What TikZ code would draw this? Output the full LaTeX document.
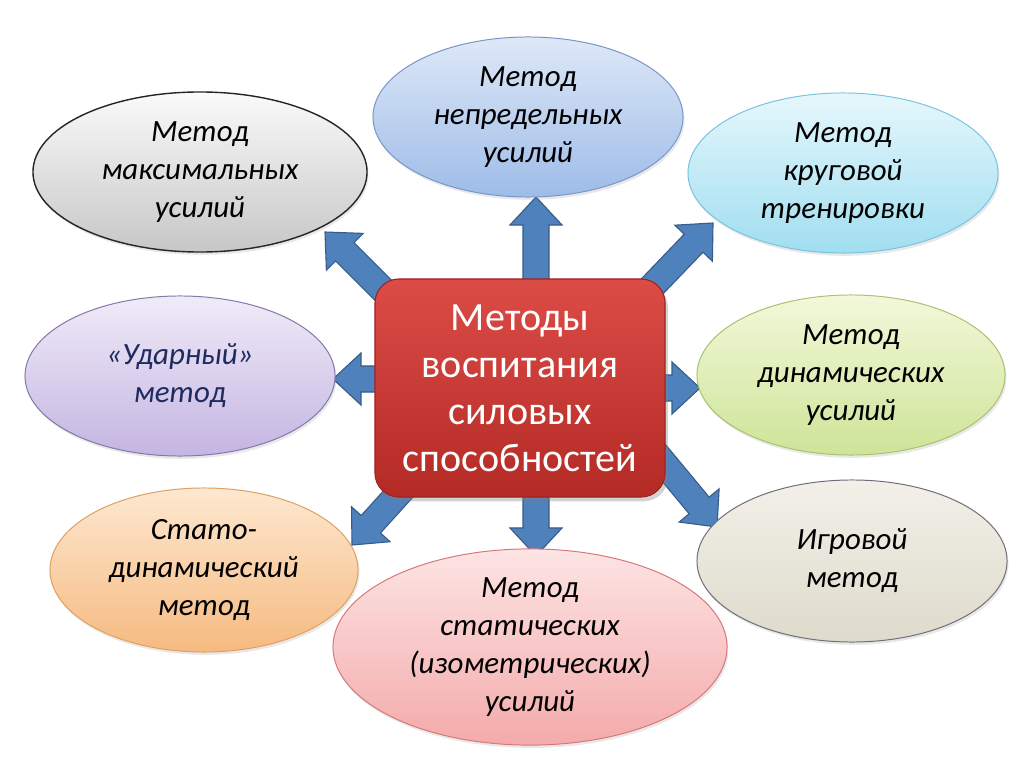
\documentclass[tikz,border=0pt]{standalone}
\usepackage{fontspec}
\setmainfont{Carlito}
\usetikzlibrary{calc,shapes.geometric,shadows}
\definecolor{arrfill}{HTML}{4F81BD}
\definecolor{arrdraw}{HTML}{385D8A}
\definecolor{redtop}{HTML}{DC4C47}
\definecolor{redbot}{HTML}{B42A25}
\definecolor{reddraw}{HTML}{9E2420}
\definecolor{navytext}{HTML}{1F2A5E}
\tikzset{
  arrowstyle/.style={fill=arrfill, draw=arrdraw, line width=0.8pt, line join=miter},
  methodnode/.style={ellipse, inner sep=0pt, align=center, line width=0.7pt,
     font=\itshape\fontsize{22}{27}\selectfont,
     drop shadow={opacity=0.18, shadow xshift=1pt, shadow yshift=-2pt}},
  mainbox/.style={rectangle, rounded corners=0.6cm, inner sep=0pt, align=center,
     top color=redtop, bottom color=redbot, draw=reddraw, line width=0.8pt,
     text=white, font=\fontsize{28.5}{33.5}\selectfont,
     minimum width=7.25cm, minimum height=5.45cm,
     drop shadow={opacity=0.35, shadow xshift=2pt, shadow yshift=-3pt}}
}
\newcommand\blockarrow[2]{%
  \coordinate (ba-h) at ($(#2)!0.7cm!(#1)$);
  \draw[arrowstyle] ($(#1)!0.325cm!90:(#2)$) -- ($(ba-h)!0.325cm!90:(#2)$)
     -- ($(ba-h)!0.65cm!90:(#2)$) -- (#2) -- ($(ba-h)!0.65cm!-90:(#2)$)
     -- ($(ba-h)!0.325cm!-90:(#2)$) -- ($(#1)!0.325cm!-90:(#2)$) -- cycle;}
\begin{document}
\begin{tikzpicture}[x=0.025cm, y=-0.025cm]
\useasboundingbox (0,0) rectangle (1024,767);
\fill[white] (0,0) rectangle (1024,767);
% arrow tails (hidden under the central box) and tips
\coordinate (tUp) at (536,320);   \coordinate (pUp) at (536,197);
\coordinate (tUL) at (445,352);   \coordinate (pUL) at (325,232);
\coordinate (tUR) at (593,348);   \coordinate (pUR) at (713,223);
\coordinate (tL)  at (450,379);   \coordinate (pL)  at (333,379);
\coordinate (tR)  at (600,388);   \coordinate (pR)  at (700,388);
\coordinate (tDL) at (439,449);   \coordinate (pDL) at (352,545);
\coordinate (tD)  at (536,450);   \coordinate (pD)  at (536,556);
\coordinate (tDR) at (634,427);   \coordinate (pDR) at (717,527);
\blockarrow{tUp}{pUp}
\blockarrow{tUL}{pUL}
\blockarrow{tUR}{pUR}
\blockarrow{tL}{pL}
\blockarrow{tR}{pR}
\blockarrow{tDL}{pDL}
\blockarrow{tD}{pD}
\blockarrow{tDR}{pDR}
% central box
\node[mainbox] (c) at (520,388) {Методы\\воспитания\\силовых\\способностей};
% ellipses
\node[methodnode, minimum width=8.35cm, minimum height=4.0cm,
  top color=white!96!gray, bottom color=black!22, draw=black!85, line width=1pt]
  (m1) at (200,172) {Метод\\максимальных\\усилий};
\node[methodnode, minimum width=7.75cm, minimum height=4.0cm,
  top color={rgb,255:red,222;green,232;blue,247}, bottom color={rgb,255:red,158;green,188;blue,232},
  draw={rgb,255:red,120;green,150;blue,200}]
  (m2) at (528,117) {Метод\\непредельных\\усилий};
\node[methodnode, minimum width=7.75cm, minimum height=4.0cm,
  top color={rgb,255:red,230;green,247;blue,252}, bottom color={rgb,255:red,160;green,222;blue,240},
  draw={rgb,255:red,120;green,196;blue,222}]
  (m3) at (843,173) {Метод\\круговой\\тренировки};
\node[methodnode, minimum width=7.75cm, minimum height=4.0cm,
  top color={rgb,255:red,240;green,235;blue,248}, bottom color={rgb,255:red,196;green,181;blue,226},
  draw={rgb,255:red,130;green,120;blue,170}, text=navytext]
  (m4) at (180,376) {«Ударный»\\метод};
\node[methodnode, minimum width=7.7cm, minimum height=4.0cm,
  top color={rgb,255:red,242;green,248;blue,218}, bottom color={rgb,255:red,206;green,228;blue,152},
  draw={rgb,255:red,168;green,194;blue,110}]
  (m5) at (851,375) {Метод\\динамических\\усилий};
\node[methodnode, minimum width=7.7cm, minimum height=4.1cm,
  top color={rgb,255:red,253;green,232;blue,208}, bottom color={rgb,255:red,246;green,186;blue,128},
  draw={rgb,255:red,222;green,160;blue,96}]
  (m6) at (204,570) {Стато-\\динамический\\метод};
\node[methodnode, minimum width=7.75cm, minimum height=4.05cm,
  top color={rgb,255:red,242;green,240;blue,232}, bottom color={rgb,255:red,222;green,219;blue,204},
  draw={rgb,255:red,110;green,110;blue,120}]
  (m7) at (852,561) {Игровой\\метод};
\node[methodnode, minimum width=9.85cm, minimum height=4.65cm,
  top color={rgb,255:red,253;green,228;blue,228}, bottom color={rgb,255:red,244;green,170;blue,170},
  draw={rgb,255:red,214;green,120;blue,120}]
  (m8) at (530,647) {Метод\\статических\\(изометрических)\\усилий};
\end{tikzpicture}
\end{document}
